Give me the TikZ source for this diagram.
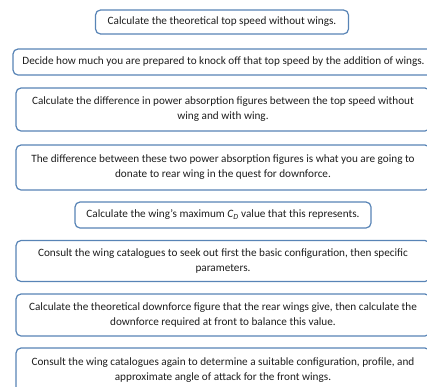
\documentclass[tikz,border=0pt]{standalone}
\usepackage{fontspec}
\setmainfont{Carlito}
\definecolor{boxline}{RGB}{88,132,182}
\definecolor{txt}{RGB}{30,30,30}
\tikzset{
  stepbox/.style={draw=boxline, line width=1.2pt, rounded corners=5pt, fill=white,
    text=txt, align=center, inner sep=0pt, font=\fontsize{11.2}{15}\selectfont},
}
\begin{document}
\begin{tikzpicture}[x=1pt,y=-1pt]
\useasboundingbox (0,0) rectangle (427,386);
\clip (0,0) rectangle (427,386);
\node[stepbox, minimum width=253pt, minimum height=24pt] (b1) at (222,22) {Calculate the theoretical top speed without wings.};
\node[stepbox, minimum width=421pt, minimum height=26pt] (b2) at (223.5,62) {Decide how much you are prepared to knock off that top speed by the addition of wings.};
\node[stepbox, minimum width=414pt, minimum height=43pt] (b3) at (223,109.5) {Calculate the difference in power absorption figures between the top speed without\\wing and with wing.};
\node[stepbox, minimum width=414pt, minimum height=45pt] (b4) at (223,167.5) {The difference between these two power absorption figures is what you are going to\\donate to rear wing in the quest for downforce.};
\node[stepbox, minimum width=296pt, minimum height=26pt] (b5) at (223,215) {Calculate the wing’s maximum \textit{C\textsubscript{D}} value that this represents.};
\node[stepbox, minimum width=414pt, minimum height=41pt] (b6) at (223,261) {Consult the wing catalogues to seek out first the basic configuration, then specific\\parameters.};
\node[stepbox, minimum width=414pt, minimum height=42pt] (b7) at (223,315) {Calculate the theoretical downforce figure that the rear wings give, then calculate the\\downforce required at front to balance this value.};
\node[stepbox, minimum width=414pt, minimum height=44pt] (b8) at (223,370) {Consult the wing catalogues again to determine a suitable configuration, profile, and\\approximate angle of attack for the front wings.};
\end{tikzpicture}
\end{document}
